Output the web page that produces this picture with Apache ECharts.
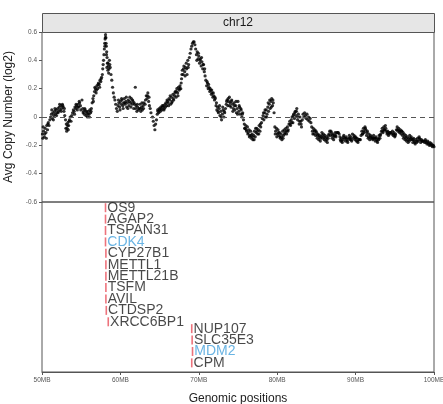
<!DOCTYPE html>
<html>
<head>
<meta charset="utf-8">
<script src="https://cdn.jsdelivr.net/npm/echarts@6/dist/echarts.min.js"></script>
<style>
  html, body { margin: 0; padding: 0; background: #fff; }
  #chart { width: 443px; height: 404px; }
</style>
</head>
<body>
<div id="chart"></div>
<script>
// copy number points: [position (MB), avg copy number (log2)]
var copyNumber = [
  [50.05,-0.12],[50.1,-0.15],[50.2,-0.10],[50.3,-0.14],[50.4,-0.08],[50.5,-0.11],[50.6,-0.06],[50.7,-0.09],[50.8,-0.04],[50.9,-0.06],[51.0,-0.02],
  [51.1,0.0],[51.2,0.02],[51.3,-0.01],[51.4,0.03],[51.5,0.01],[51.6,0.04],[51.7,0.02],[51.8,0.05],[51.9,0.03],
  [52.0,0.06],[52.1,0.04],[52.2,0.07],[52.3,0.05],[52.4,0.08],[52.5,0.06],[52.6,0.09],[52.7,0.07],[52.8,0.04],[52.9,0.01],
  [53.0,-0.02],[53.1,-0.05],[53.2,-0.08],[53.3,-0.04],[53.4,-0.06],[53.5,-0.02],[53.6,0.0],[53.7,-0.03],[53.8,0.01],
  [53.9,0.03],[54.0,0.05],[54.1,0.04],[54.2,0.07],[54.3,0.06],[54.4,0.08],[54.5,0.05],[54.6,0.09],[54.7,0.07],[54.8,0.10],[54.9,0.08],[55.1,0.12],
  [55.2,0.06],[55.3,0.04],[55.4,0.02],[55.5,0.05],[55.6,0.01],[55.7,0.03],[55.8,0.0],[55.9,0.04],[56.0,0.02],[56.1,0.05],[56.2,0.03],[56.3,0.06],
  [56.4,0.10],[56.5,0.13],[56.6,0.15],[56.7,0.18],[56.8,0.20],[56.9,0.17],[57.0,0.22],[57.1,0.20],[57.2,0.24],[57.3,0.23],[57.4,0.26],[57.5,0.25],
  [57.6,0.28],[57.7,0.30],[57.75,0.34],[57.8,0.37],[57.85,0.40],[57.9,0.44],[57.95,0.48],[58.0,0.52],[58.05,0.55],[58.1,0.58],[58.12,0.60],[58.15,0.56],[58.2,0.50],[58.25,0.46],[58.3,0.42],
  [58.35,0.38],[58.4,0.33],[58.45,0.36],[58.5,0.31],[58.55,0.34],[58.6,0.40],[58.7,0.35],[58.8,0.30],
  [58.9,0.26],[59.0,0.21],[59.1,0.17],[59.2,0.14],[59.3,0.12],[59.4,0.09],[59.5,0.06],[59.6,0.04],
  [59.7,0.08],[59.8,0.10],[59.9,0.07],[60.0,0.11],[60.1,0.09],[60.2,0.12],[60.3,0.08],[60.4,0.10],[60.5,0.13],[60.6,0.09],[60.7,0.11],[60.8,0.07],[60.9,0.10],
  [61.0,0.12],[61.1,0.08],[61.2,0.14],[61.3,0.10],[61.4,0.13],[61.5,0.09],[61.6,0.11],[61.7,0.06],[61.8,0.09],[61.9,0.21],[62.0,0.08],[62.1,0.04],[62.2,0.07],[62.3,0.05],
  [62.4,0.06],[62.5,0.09],[62.6,0.04],[62.7,0.07],[62.8,0.05],[62.9,0.08],[63.0,0.10],[63.2,0.12],[63.3,0.15],[63.4,0.13],[63.5,0.17],[63.6,0.11],[63.7,0.08],[63.8,0.06],[63.9,0.03],
  [64.1,0.0],[64.2,-0.03],[64.3,-0.06],[64.4,-0.09],[64.5,-0.05],[64.6,-0.02],
  [64.7,0.02],[64.8,0.04],[64.9,0.03],[65.0,0.05],[65.1,0.04],[65.2,0.06],[65.3,0.05],[65.4,0.07],[65.5,0.08],[65.6,0.06],[65.7,0.09],[65.8,0.10],[65.9,0.08],[66.0,0.11],[66.1,0.10],[66.2,0.13],[66.3,0.12],
  [66.4,0.09],[66.5,0.14],[66.6,0.11],[66.7,0.16],[66.8,0.12],[66.9,0.15],[67.0,0.18],[67.1,0.14],[67.2,0.20],[67.3,0.17],[67.4,0.21],[67.5,0.19],[67.6,0.22],[67.7,0.20],
  [67.8,0.27],[67.9,0.33],[68.0,0.30],[68.1,0.36],[68.2,0.32],[68.3,0.35],[68.4,0.38],[68.5,0.30],[68.6,0.40],[68.7,0.37],
  [68.8,0.42],[68.9,0.45],[69.0,0.48],[69.1,0.50],[69.2,0.52],[69.3,0.53],[69.4,0.53],[69.5,0.51],[69.6,0.48],
  [69.7,0.44],[69.8,0.46],[69.9,0.41],[70.0,0.43],[70.1,0.38],[70.2,0.41],[70.3,0.36],[70.4,0.39],[70.5,0.34],[70.6,0.37],[70.7,0.32],[70.8,0.29],
  [70.9,0.26],[71.0,0.22],[71.1,0.24],[71.2,0.20],[71.3,0.21],[71.4,0.18],[71.5,0.19],[71.6,0.16],[71.7,0.17],[71.8,0.14],[71.9,0.15],[72.0,0.12],[72.1,0.13],
  [72.2,0.08],[72.3,0.05],[72.4,0.07],[72.5,0.03],[72.6,0.06],[72.7,0.01],[72.8,0.04],[72.9,-0.02],[73.0,0.02],[73.1,0.05],[73.2,0.0],[73.3,0.03],[73.4,0.06],
  [73.5,0.09],[73.6,0.12],[73.7,0.08],[73.8,0.11],[73.9,0.14],[74.0,0.10],[74.1,0.07],[74.2,0.12],[74.3,0.09],[74.4,0.06],[74.5,0.10],
  [74.6,0.05],[74.7,0.08],[74.8,0.03],[74.9,0.06],[75.0,0.11],[75.1,0.04],[75.2,0.07],[75.3,0.02],[75.4,0.05],[75.5,0.0],[75.6,0.03],[75.7,-0.02],
  [75.8,-0.05],[75.9,-0.08],[76.0,-0.06],[76.1,-0.10],[76.2,-0.07],[76.3,-0.11],[76.4,-0.09],[76.5,-0.13],[76.6,-0.10],[76.7,-0.15],[76.8,-0.12],[76.9,-0.16],
  [77.0,-0.13],[77.1,-0.10],[77.2,-0.14],[77.3,-0.11],[77.4,-0.08],[77.5,-0.12],[77.6,-0.09],[77.7,-0.06],[77.8,-0.10],[77.9,-0.07],[78.0,-0.04],
  [78.1,-0.01],[78.2,0.01],[78.3,-0.02],[78.4,0.03],[78.5,0.0],[78.6,0.05],[78.7,0.02],[78.8,0.07],[78.9,0.04],[79.0,0.09],[79.1,0.06],[79.2,0.11],[79.3,0.13],[79.4,0.08],[79.5,0.10],[79.6,0.03],
  [79.7,-0.07],[79.8,-0.10],[79.9,-0.08],[80.0,-0.12],[80.1,-0.09],[80.2,-0.13],[80.3,-0.11],[80.4,-0.15],[80.5,-0.12],[80.6,-0.16],[80.7,-0.10],[80.8,-0.13],[80.9,-0.09],
  [81.0,-0.11],[81.1,-0.08],[81.2,-0.12],[81.3,-0.07],[81.4,-0.09],[81.5,-0.05],
  [81.6,-0.03],[81.7,-0.06],[81.8,-0.02],[81.9,0.0],[82.0,-0.04],[82.1,0.02],[82.2,-0.01],[82.3,0.04],[82.4,0.01],[82.5,0.06],[82.6,-0.02],[82.7,0.02],[82.8,-0.05],[82.9,0.0],[83.0,-0.03],[83.1,-0.07],[83.2,-0.02],
  [83.3,0.02],[83.4,0.0],[83.5,0.03],[83.6,0.01],[83.7,-0.01],[83.8,0.02],[83.9,-0.02],[84.0,0.0],[84.1,-0.03],[84.2,-0.01],[84.3,-0.04],
  [84.4,-0.07],[84.5,-0.10],[84.6,-0.08],[84.7,-0.12],[84.8,-0.09],[84.9,-0.13],[85.0,-0.11],[85.1,-0.15],[85.2,-0.12],[85.3,-0.16],[85.4,-0.13],[85.5,-0.17],[85.6,-0.14],[85.7,-0.11],[85.8,-0.15],[85.9,-0.12],
  [86.0,-0.16],[86.1,-0.13],[86.2,-0.17],[86.3,-0.14],[86.4,-0.18],[86.5,-0.15],[86.6,-0.12],
  [86.7,-0.10],[86.8,-0.13],[86.9,-0.11],[87.0,-0.15],[87.1,-0.12],[87.2,-0.16],[87.3,-0.13],[87.4,-0.11],[87.5,-0.14],[87.6,-0.11],[87.7,-0.11],[87.8,-0.11],[87.9,-0.12],
  [88.0,-0.14],[88.1,-0.17],[88.2,-0.15],[88.3,-0.18],[88.4,-0.16],[88.5,-0.13],
  [88.6,-0.15],[88.7,-0.17],[88.8,-0.14],[88.9,-0.16],[89.0,-0.18],[89.1,-0.15],[89.2,-0.13],[89.3,-0.16],[89.4,-0.14],[89.5,-0.17],[89.6,-0.12],[89.7,-0.15],[89.8,-0.13],[89.9,-0.16],
  [90.0,-0.14],[90.1,-0.17],[90.2,-0.15],[90.3,-0.18],[90.4,-0.16],[90.5,-0.16],[90.6,-0.16],[90.7,-0.13],
  [90.8,-0.10],[90.9,-0.12],[91.0,-0.08],[91.1,-0.11],[91.2,-0.07],[91.3,-0.09],[91.4,-0.13],[91.5,-0.10],[91.6,-0.15],[91.7,-0.12],[91.8,-0.16],[91.9,-0.13],[92.0,-0.15],
  [92.1,-0.14],[92.2,-0.16],[92.3,-0.13],[92.4,-0.15],[92.5,-0.17],[92.6,-0.14],[92.7,-0.16],[92.8,-0.18],[92.9,-0.15],[93.0,-0.13],[93.1,-0.15],[93.2,-0.12],[93.3,-0.10],
  [93.4,-0.08],[93.5,-0.11],[93.6,-0.07],[93.7,-0.09],[93.8,-0.06],[93.9,-0.10],[94.0,-0.12],[94.1,-0.10],[94.2,-0.13],[94.3,-0.11],[94.4,-0.11],[94.5,-0.11],[94.6,-0.12],[94.7,-0.10],[94.8,-0.13],[94.9,-0.11],[95.0,-0.14],[95.1,-0.12],
  [95.2,-0.09],[95.3,-0.07],[95.4,-0.10],[95.5,-0.08],[95.6,-0.11],[95.7,-0.09],[95.8,-0.12],[95.9,-0.10],[96.0,-0.13],[96.1,-0.15],[96.2,-0.12],[96.3,-0.16],[96.4,-0.13],[96.5,-0.17],[96.6,-0.14],[96.7,-0.18],[96.8,-0.15],[96.9,-0.13],[97.0,-0.16],[97.1,-0.14],
  [97.2,-0.16],[97.3,-0.18],[97.4,-0.15],[97.5,-0.17],[97.6,-0.19],[97.7,-0.16],[97.8,-0.18],[97.9,-0.15],[98.0,-0.17],[98.1,-0.14],[98.2,-0.16],[98.3,-0.18],[98.4,-0.16],[98.5,-0.17],[98.6,-0.17],[98.7,-0.17],[98.8,-0.18],[98.9,-0.16],
  [99.0,-0.18],[99.1,-0.19],[99.2,-0.17],[99.3,-0.19],[99.4,-0.20],[99.5,-0.18],[99.6,-0.20],[99.7,-0.19],[99.8,-0.21],[99.9,-0.20],[100.0,-0.21]
];

var copyNumberExtra = [
  [50.15,-0.07],[50.35,-0.12],[50.55,-0.15],[50.75,-0.05],
  [51.25,0.05],[51.45,-0.02],[51.65,0.06],[51.85,0.01],[52.05,0.03],[52.25,0.09],[52.45,0.04],[52.65,0.08],[52.85,0.06],
  [53.05,-0.08],[53.15,-0.10],[53.25,-0.06],[53.35,-0.09],[53.45,-0.03],
  [54.15,0.02],[54.35,0.09],[54.55,0.07],[54.75,0.11],[54.95,0.05],
  [55.25,0.03],[55.45,0.06],[55.65,0.04],[55.85,0.02],[56.05,0.0],[56.25,0.04],
  [56.55,0.11],[56.75,0.21],[56.95,0.19],[57.15,0.23],[57.35,0.21],[57.55,0.27],
  [58.02,0.50],[58.08,0.56],[58.17,0.52],[58.22,0.44],[58.28,0.35],[58.42,0.38],[58.65,0.37],
  [59.75,0.12],[59.95,0.05],[60.15,0.13],[60.35,0.06],[60.55,0.10],[60.75,0.14],[60.95,0.06],[61.15,0.11],[61.35,0.07],[61.55,0.12],[61.75,0.10],[61.95,0.06],[62.15,0.09],
  [62.55,0.06],[62.75,0.10],[62.95,0.06],[63.15,0.09],[63.45,0.15],[63.65,0.14],
  [64.75,0.05],[64.95,0.06],[65.15,0.07],[65.35,0.08],[65.55,0.05],[65.75,0.07],[65.95,0.12],[66.15,0.08],[66.35,0.15],
  [66.55,0.10],[66.75,0.13],[66.95,0.17],[67.15,0.18],[67.35,0.15],[67.55,0.20],[67.75,0.24],
  [67.85,0.30],[68.05,0.34],[68.25,0.29],[68.45,0.34],[68.65,0.35],
  [69.75,0.40],[69.95,0.45],[70.15,0.40],[70.35,0.42],[70.55,0.37],[70.75,0.34],
  [71.05,0.25],[71.25,0.23],[71.45,0.20],[71.65,0.19],[71.85,0.17],[72.05,0.14],
  [72.25,0.10],[72.45,0.04],[72.65,0.08],[72.85,0.0],[73.05,0.07],[73.25,0.04],
  [73.55,0.11],[73.75,0.13],[73.95,0.08],[74.15,0.11],[74.35,0.04],[74.55,0.08],[74.75,0.11],[74.95,0.02],[75.15,0.08],[75.35,0.06],[75.55,0.02],
  [75.85,-0.08],[76.05,-0.09],[76.25,-0.12],[76.45,-0.14],[76.65,-0.13],[76.85,-0.14],[77.05,-0.16],[77.25,-0.08],[77.45,-0.10],[77.65,-0.12],[77.85,-0.05],
  [78.25,0.03],[78.45,0.05],[78.65,0.0],[78.85,0.10],[79.05,0.12],[79.25,0.07],[79.45,0.12],
  [79.75,-0.12],[79.95,-0.14],[80.15,-0.11],[80.35,-0.14],[80.55,-0.14],[80.75,-0.15],[80.95,-0.12],[81.15,-0.10],[81.35,-0.10],
  [81.65,-0.05],[81.85,-0.04],[82.05,0.01],[82.25,0.03],[82.45,0.04],[82.65,0.0],[82.85,-0.03],[83.05,-0.05],
  [84.55,-0.12],[84.75,-0.10],[84.95,-0.10],[85.15,-0.13],[85.35,-0.14],[85.55,-0.15],[85.75,-0.13],[85.95,-0.14],[86.15,-0.15],[86.35,-0.16],[86.55,-0.13],
  [86.85,-0.10],[87.05,-0.13],[87.25,-0.14],[87.45,-0.13],[88.05,-0.16],[88.25,-0.17],[88.45,-0.14],
  [88.75,-0.15],[88.95,-0.17],[89.25,-0.15],[89.45,-0.16],[89.85,-0.14],[90.05,-0.15],[90.25,-0.17],
  [90.85,-0.12],[91.05,-0.10],[91.25,-0.08],[91.45,-0.11],[91.65,-0.14],[91.85,-0.14],
  [92.15,-0.15],[92.35,-0.15],[92.55,-0.15],[92.75,-0.17],[92.95,-0.16],[93.15,-0.13],
  [93.45,-0.10],[93.65,-0.09],[93.85,-0.08],[94.05,-0.11],[94.25,-0.12],[94.85,-0.12],[95.05,-0.13],
  [95.35,-0.09],[95.65,-0.10],[95.85,-0.10],[96.05,-0.11],[96.25,-0.14],[96.45,-0.15],[96.65,-0.16],[96.85,-0.17],[97.05,-0.15],
  [97.35,-0.16],[97.55,-0.18],[97.85,-0.17],[98.15,-0.15],[98.45,-0.17],[98.95,-0.17],[99.25,-0.18],[99.55,-0.19],[99.85,-0.20]
];

// gene track
var geneNames = ['OS9', 'AGAP2', 'TSPAN31', 'CDK4', 'CYP27B1', 'METTL1', 'METTL21B', 'TSFM', 'AVIL', 'CTDSP2', 'XRCC6BP1',
                 'NUP107', 'SLC35E3', 'MDM2', 'CPM'];
var genePos = [58.1, 58.1, 58.1, 58.1, 58.15, 58.15, 58.15, 58.15, 58.15, 58.2, 58.45,
               69.1, 69.15, 69.2, 69.1];
var geneRow = [0, 1, 2, 3, 4, 5, 6, 7, 8, 9, 10, 10.6, 11.6, 12.6, 13.6];
var highlightGenes = ['CDK4', 'MDM2'];

var yTicks = [-0.6, 0.6, 0.2]; // min, max, interval
var xTicks = [50, 100, 10];

var chartDom = document.getElementById('chart');
var myChart = echarts.init(chartDom, null, { renderer: 'canvas' });

var geneData = geneNames.map(function (name, i) {
  var hl = highlightGenes.indexOf(name) >= 0;
  return {
    name: name,
    value: [genePos[i], geneRow[i]],
    label: { color: hl ? '#45a1dc' : '#1a1a1a' }
  };
});

var FONT = 'Liberation Sans, Arial, sans-serif';

var option = {
  animation: false,
  textStyle: { fontFamily: FONT },
  grid: [
    { left: 42, right: 9, top: 32, height: 170, show: true, borderColor: '#555', borderWidth: 1, backgroundColor: 'transparent', containLabel: false, outerBoundsMode: 'none' },
    { left: 42, right: 9, top: 202, height: 170, show: true, borderColor: '#555', borderWidth: 1, backgroundColor: 'transparent', containLabel: false, outerBoundsMode: 'none' }
  ],
  xAxis: [
    { gridIndex: 0, type: 'value', min: xTicks[0], max: xTicks[1], interval: xTicks[2], show: false },
    {
      gridIndex: 1, type: 'value', min: xTicks[0], max: xTicks[1], interval: xTicks[2],
      position: 'bottom',
      splitLine: { show: false },
      axisLine: { show: true, onZero: false, lineStyle: { color: '#555' } },
      axisTick: { show: true, length: 3, lineStyle: { color: '#555' } },
      axisLabel: { fontSize: 6.5, color: '#555', margin: 5, formatter: function (v) { return v + 'MB'; } },
      name: 'Genomic positions', nameLocation: 'middle', nameGap: 21,
      nameTextStyle: { fontSize: 12, color: '#222', fontFamily: FONT }
    }
  ],
  yAxis: [
    {
      gridIndex: 0, type: 'value', min: yTicks[0], max: yTicks[1], interval: yTicks[2],
      splitLine: { show: false },
      axisLine: { show: false },
      axisTick: { show: true, length: 3, lineStyle: { color: '#555' } },
      axisLabel: { fontSize: 6.5, color: '#555', margin: 5, formatter: function (v) { return v === 0 ? '0' : v.toFixed(1); } },
      name: 'Avg Copy Number (log2)', nameLocation: 'middle', nameGap: 23,
      nameTextStyle: { fontSize: 12, color: '#222', fontFamily: FONT }
    },
    { gridIndex: 1, type: 'value', min: -0.5, max: 14.4, inverse: true, show: false }
  ],
  graphic: [
    { type: 'rect', left: 42, top: 13, shape: { width: 392, height: 19 }, style: { fill: '#e6e6e6', stroke: '#555', lineWidth: 1 }, z: 10 },
    { type: 'text', x: 238, y: 23, style: { text: 'chr12', fontSize: 12, fill: '#1a1a1a', font: '12px ' + FONT, textAlign: 'center', textVerticalAlign: 'middle' }, z: 11 }
  ],
  series: [
    {
      type: 'scatter', xAxisIndex: 0, yAxisIndex: 0,
      symbolSize: 3.2,
      itemStyle: { color: '#000' },
      data: copyNumber.concat(copyNumberExtra),
      markLine: {
        silent: true, symbol: 'none', label: { show: false },
        lineStyle: { color: '#555', type: [5, 4], width: 1 },
        data: [{ yAxis: 0 }]
      }
    },
    {
      type: 'scatter', xAxisIndex: 1, yAxisIndex: 1,
      symbol: 'rect', symbolSize: [1.6, 9],
      itemStyle: { color: '#e8505b' },
      label: { show: true, position: 'right', distance: 1, fontSize: 14, fontFamily: FONT, formatter: '{b}' },
      data: geneData
    }
  ]
};

myChart.setOption(option);
</script>
</body>
</html>
